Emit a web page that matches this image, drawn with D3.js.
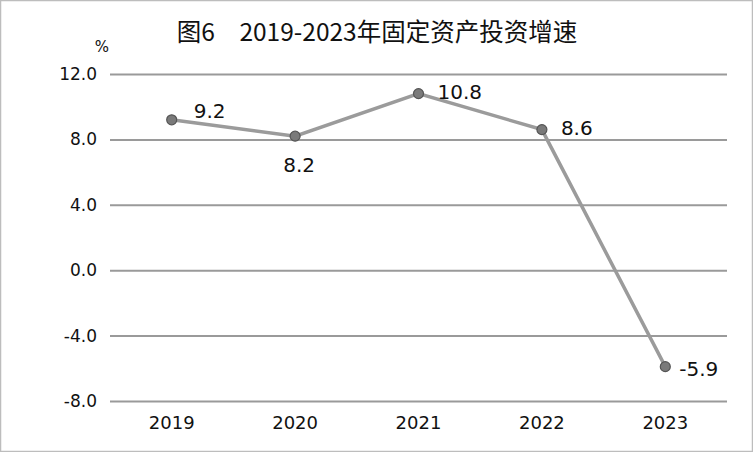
<!DOCTYPE html>
<html><head><meta charset="utf-8">
<script src="https://cdn.jsdelivr.net/npm/d3@7"></script>
<style>body{margin:0;background:#fff}svg{display:block}</style>
</head><body>
<svg id="c" width="753" height="452"></svg>
<script>
const years = ["2019","2020","2021","2022","2023"];
const growth = [9.2, 8.2, 10.8, 8.6, -5.9];
const yTicks = [-8, -4, 0, 4, 8, 12];
const labelPlace = ["upRight","below","right","right","rightLow"];
const title = "图6　2019-2023年固定资产投资增速";

const placeStyle = {
  upRight: {dx: 22, dy: -2, anchor: "start"},
  below:   {dx: 4,  dy: 36, anchor: "middle"},
  right:   {dx: 19, dy: 5,  anchor: "start"},
  rightLow:{dx: 14, dy: 9,  anchor: "start"}
};

const svg = d3.select("#c");
const W = 753, H = 452;
svg.append("rect").attr("x",0.5).attr("y",0.5).attr("width",W-1).attr("height",H-1)
  .attr("fill","#fff").attr("stroke","#bdbdbd").attr("stroke-width",1.5);

const x = d3.scaleBand().domain(years).range([110, 727]);
const y = d3.scaleLinear().domain([-8, 12]).range([401, 74]);
const font = "'DejaVu Sans', Verdana, sans-serif";
const fmt = d => d.toFixed(1);

svg.append("text").attr("x", 377).attr("y", 41).attr("text-anchor","middle")
  .attr("font-family","'Noto Sans CJK SC', sans-serif").attr("font-size",24.5)
  .attr("fill","#111").text(title);
svg.append("text").attr("x", 102).attr("y", 52).attr("text-anchor","middle")
  .attr("font-family",font).attr("font-size",15).attr("fill","#111").text("%");

const yAxis = d3.axisLeft(y).tickValues(yTicks).tickFormat(fmt)
  .tickSize(-(727-110)).tickPadding(13);
const gy = svg.append("g").attr("transform","translate(110,0)").call(yAxis);
gy.select(".domain").remove();
gy.selectAll(".tick line").attr("stroke","#9a9a9a").attr("stroke-width",2);
gy.selectAll(".tick text").attr("font-family",font).attr("font-size",17).attr("fill","#111");

const xAxis = d3.axisBottom(x).tickSize(0).tickPadding(15);
const gx = svg.append("g").attr("transform","translate(0,401)").call(xAxis);
gx.select(".domain").remove();
gx.selectAll(".tick text").attr("font-family",font).attr("font-size",18).attr("fill","#111");

const pts = years.map((d,i)=>({yr:d, v:growth[i], p:placeStyle[labelPlace[i]]}));
const cx = d => x(d.yr)+x.bandwidth()/2;
const line = d3.line().x(cx).y(d=>y(d.v));
svg.append("path").datum(pts).attr("d",line).attr("fill","none")
  .attr("stroke","#9b9b9b").attr("stroke-width",3.5);
svg.selectAll("circle.m").data(pts).join("circle")
  .attr("cx",cx).attr("cy",d=>y(d.v)).attr("r",5)
  .attr("fill","#7a7a7a").attr("stroke","#555").attr("stroke-width",1.2);

svg.selectAll("text.lbl").data(pts).join("text")
  .attr("font-family",font).attr("font-size",20).attr("fill","#111")
  .attr("x",d=>cx(d)+d.p.dx)
  .attr("y",d=>y(d.v)+d.p.dy)
  .attr("text-anchor",d=>d.p.anchor)
  .text(d=>fmt(d.v));
</script>
</body></html>
